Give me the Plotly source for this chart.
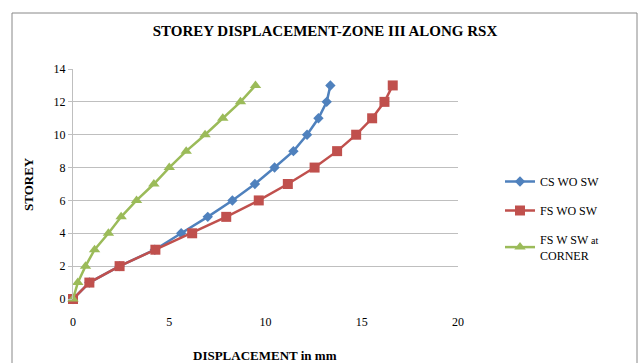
import plotly.graph_objects as go

storey = list(range(0, 14))
cs_wo_sw = [0, 0.85, 2.42, 4.25, 5.62, 7.0, 8.28, 9.45, 10.47, 11.45, 12.16, 12.75, 13.18, 13.37]
fs_wo_sw = [0, 0.85, 2.42, 4.28, 6.19, 7.96, 9.65, 11.16, 12.55, 13.72, 14.71, 15.54, 16.18, 16.61]
fs_w_sw_corner = [0, 0.25, 0.65, 1.12, 1.84, 2.5, 3.3, 4.2, 5.0, 5.88, 6.86, 7.78, 8.7, 9.48]

names = ["CS WO SW", "FS WO SW", "FS W SW <span style='font-size:10px'>at</span><br>CORNER"]
colors = ["#4F81BD", "#C0504D", "#9BBB59"]
symbols = ["diamond", "square", "triangle-up"]
sizes = [8, 10, 10]

ff = "Times New Roman, Liberation Serif, serif"

fig = go.Figure()
for i, xs in enumerate([cs_wo_sw, fs_wo_sw, fs_w_sw_corner]):
    fig.add_trace(go.Scatter(
        x=xs, y=storey, name=names[i], mode="lines+markers",
        line=dict(color=colors[i], width=2.5),
        marker=dict(symbol=symbols[i], size=sizes[i], color=colors[i]),
        cliponaxis=False, legendgroup=str(i),
    ))

fig.update_layout(
    width=643, height=363,
    margin=dict(l=73, r=185, t=69, b=64, autoexpand=False),
    paper_bgcolor="white", plot_bgcolor="white",
    font=dict(family=ff, size=12, color="#000000"),
    title=dict(text="<b>STOREY DISPLACEMENT-ZONE III ALONG RSX</b>",
               x=325 / 643, xanchor="center", y=1 - 31 / 363, yanchor="middle",
               font=dict(size=15, family=ff, color="#000")),
    xaxis=dict(range=[0, 20], dtick=5, tick0=0, showgrid=False, zeroline=False,
               showline=False, ticks="", ticklabelstandoff=14, automargin=False,
               tickfont=dict(size=12, family=ff, color="#000")),
    yaxis=dict(range=[0, 14], dtick=2, tick0=0, showgrid=True, gridcolor="#BFBFBF",
               gridwidth=1, zeroline=False, showline=True, linecolor="#BFBFBF",
               ticks="outside", ticklen=4, tickcolor="#BFBFBF", automargin=False,
               tickfont=dict(size=12, family=ff, color="#000")),
    legend=dict(x=(500 - 73) / 385, y=(299 - 167) / 230, xanchor="left", yanchor="top",
                font=dict(size=12, family=ff, color="#000"), tracegroupgap=10,
                bgcolor="rgba(0,0,0,0)"),
    annotations=[
        dict(text="<b>DISPLACEMENT in mm</b>", xref="paper", yref="paper",
             x=(265 - 73) / 385, y=(299 - 355) / 230, xanchor="center", yanchor="middle",
             showarrow=False, font=dict(size=13, family=ff, color="#000")),
        dict(text="<b>STOREY</b>", xref="paper", yref="paper", textangle=-90,
             x=(28 - 73) / 385, y=(299 - 184) / 230, xanchor="center", yanchor="middle",
             showarrow=False, font=dict(size=13, family=ff, color="#000")),
    ],
    shapes=[
        dict(type="rect", xref="paper", yref="paper",
             x0=(12 - 73) / 385, x1=(637 - 73) / 385,
             y0=(299 - 400) / 230, y1=(299 - 13) / 230,
             line=dict(color="#888888", width=1), layer="below"),
    ],
)

fig.write_html("out.html")
